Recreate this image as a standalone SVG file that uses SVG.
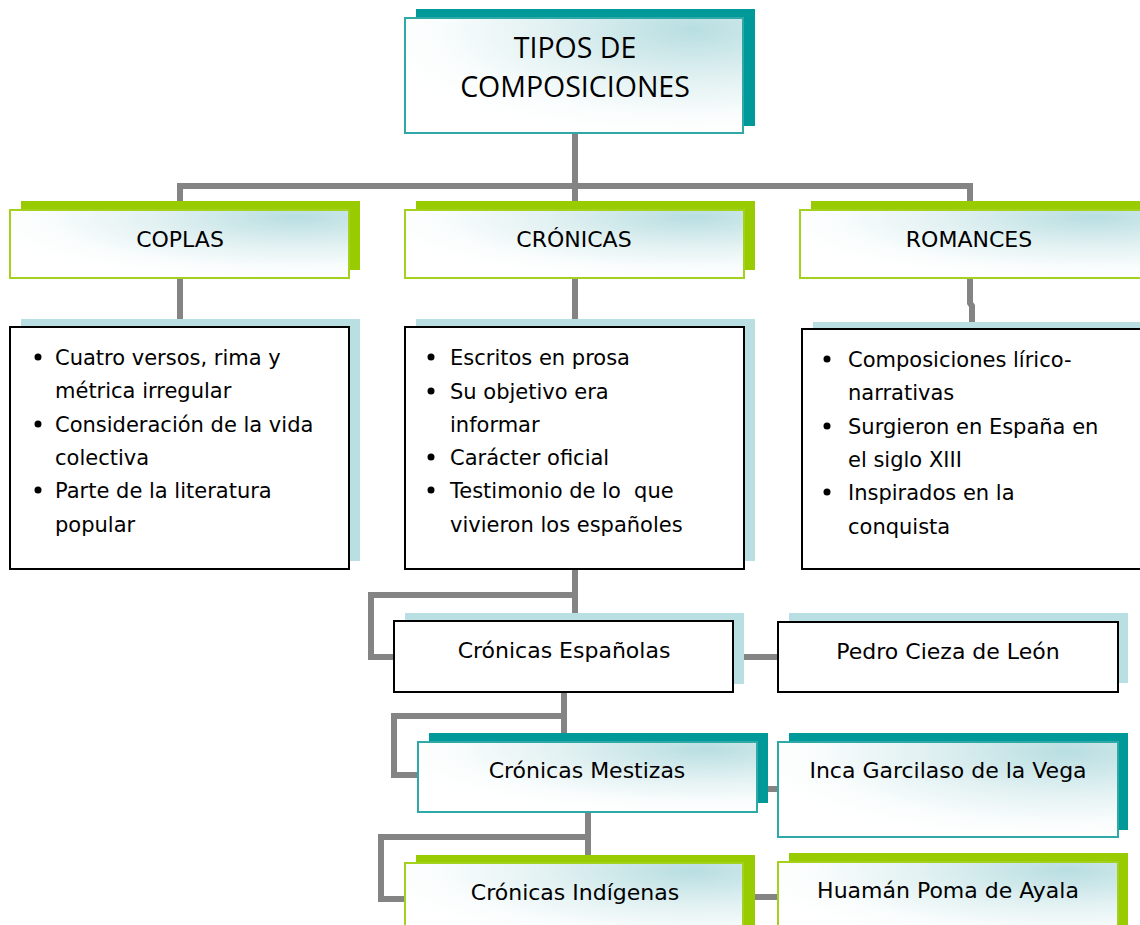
<svg xmlns="http://www.w3.org/2000/svg" width="1140" height="925" viewBox="0 0 1140 925">
<defs>
<radialGradient id="g" cx="0.85" cy="0.1" r="0.95" fx="0.85" fy="0.1">
<stop offset="0" stop-color="#B8DEE1"/>
<stop offset="0.45" stop-color="#E2F1F2"/>
<stop offset="0.8" stop-color="#FAFDFD"/>
<stop offset="1" stop-color="#FFFFFF"/>
</radialGradient>
<style>
.con{fill:none;stroke:#848484;stroke-width:6;stroke-linejoin:miter;stroke-linecap:butt}
.shT{fill:#009999}
.shG{fill:#99CC00}
.shB{fill:#B9DFE2}
.frT{fill:url(#g);stroke:#2FA8A8;stroke-width:2}
.frG{fill:url(#g);stroke:#A3D11E;stroke-width:2}
.frB{fill:#FFFFFF;stroke:#000000;stroke-width:2}
.t{font-family:"DejaVu Sans",sans-serif;font-size:21px;fill:#000}
.h{font-family:"DejaVu Sans",sans-serif;font-size:22px;fill:#000;text-anchor:middle}
.ti{font-family:"Open Sans",sans-serif;font-size:28.5px;fill:#000;text-anchor:middle}
.b{fill:#000}
</style>
</defs>
<rect width="1140" height="925" fill="#FFFFFF"/>
<g id="connectors">
<path class="con" d="M575 133 V205"/>
<path class="con" d="M180 205 V186 H970 V205"/>
<path class="con" d="M180 278 V320"/>
<path class="con" d="M575 278 V320"/>
<path class="con" d="M970 278 V303 L972 306 V323"/>
<path class="con" d="M575 569 V614"/>
<path class="con" d="M575 595 H371 V657 H395"/>
<path class="con" d="M744 657 H779"/>
<path class="con" d="M564 692 V734"/>
<path class="con" d="M564 716 H394 V775 H419"/>
<path class="con" d="M768 789 H779"/>
<path class="con" d="M588 812 V856"/>
<path class="con" d="M588 837 H381 V899 H406"/>
<path class="con" d="M755 897 H779"/>
</g>
<g id="tipos">
<rect class="shT" x="416" y="9" width="339" height="117"/>
<rect class="frT" x="405" y="18" width="338" height="115"/>
<text class="ti" x="575" y="58">TIPOS DE</text>
<text class="ti" x="575" y="97">COMPOSICIONES</text>
</g>
<g id="coplas">
<rect class="shG" x="21" y="201" width="339" height="69"/>
<rect class="frG" x="10" y="210" width="339" height="68"/>
<text class="h" x="180" y="247">COPLAS</text>
</g>
<g id="cronicas">
<rect class="shG" x="416" y="201" width="339" height="69"/>
<rect class="frG" x="405" y="210" width="339" height="68"/>
<text class="h" x="574" y="247">CRÓNICAS</text>
</g>
<g id="romances">
<rect class="shG" x="811" y="201" width="335" height="69"/>
<rect class="frG" x="800" y="210" width="345" height="68"/>
<text class="h" x="969" y="247">ROMANCES</text>
</g>
<g id="coplas-desc">
<rect class="shB" x="21" y="319" width="339" height="242"/>
<rect class="frB" x="10" y="327" width="339" height="242"/>
<circle class="b" cx="38" cy="357" r="3.5"/>
<circle class="b" cx="38" cy="424" r="3.5"/>
<circle class="b" cx="38" cy="490" r="3.5"/>
<text class="t" x="55" y="365">Cuatro versos, rima y</text>
<text class="t" x="55" y="398">métrica irregular</text>
<text class="t" x="55" y="432">Consideración de la vida</text>
<text class="t" x="55" y="465">colectiva</text>
<text class="t" x="55" y="498">Parte de la literatura</text>
<text class="t" x="55" y="532">popular</text>
</g>
<g id="cronicas-desc">
<rect class="shB" x="416" y="319" width="339" height="242"/>
<rect class="frB" x="405" y="327" width="339" height="242"/>
<circle class="b" cx="431" cy="357" r="3.5"/>
<circle class="b" cx="431" cy="391" r="3.5"/>
<circle class="b" cx="431" cy="457" r="3.5"/>
<circle class="b" cx="431" cy="490" r="3.5"/>
<text class="t" x="450" y="365">Escritos en prosa</text>
<text class="t" x="450" y="399">Su objetivo era</text>
<text class="t" x="450" y="432">informar</text>
<text class="t" x="450" y="465">Carácter oficial</text>
<text class="t" x="450" y="498" style="white-space:pre">Testimonio de lo  que</text>
<text class="t" x="450" y="532">vivieron los españoles</text>
</g>
<g id="romances-desc">
<rect class="shB" x="813" y="322" width="335" height="240"/>
<rect class="frB" x="802" y="329" width="345" height="240"/>
<circle class="b" cx="827" cy="359" r="3.5"/>
<circle class="b" cx="827" cy="426" r="3.5"/>
<circle class="b" cx="827" cy="492" r="3.5"/>
<text class="t" x="848" y="367">Composiciones lírico-</text>
<text class="t" x="848" y="400">narrativas</text>
<text class="t" x="848" y="434">Surgieron en España en</text>
<text class="t" x="848" y="467">el siglo XIII</text>
<text class="t" x="848" y="500">Inspirados en la</text>
<text class="t" x="848" y="534">conquista</text>
</g>
<g id="cronicas-espanolas">
<rect class="shB" x="405" y="613" width="339" height="71"/>
<rect class="frB" x="394" y="621" width="339" height="71"/>
<text class="h" x="564" y="658">Crónicas Españolas</text>
</g>
<g id="pedro-cieza">
<rect class="shB" x="789" y="613" width="339" height="70"/>
<rect class="frB" x="778" y="622" width="340" height="70"/>
<text class="h" x="948" y="659">Pedro Cieza de León</text>
</g>
<g id="cronicas-mestizas">
<rect class="shT" x="429" y="733" width="339" height="70"/>
<rect class="frT" x="418" y="742" width="339" height="70"/>
<text class="h" x="587" y="778">Crónicas Mestizas</text>
</g>
<g id="inca-garcilaso">
<rect class="shT" x="789" y="733" width="339" height="97"/>
<rect class="frT" x="778" y="742" width="340" height="95"/>
<text class="h" x="948" y="778">Inca Garcilaso de la Vega</text>
</g>
<g id="cronicas-indigenas">
<rect class="shG" x="416" y="855" width="339" height="80"/>
<rect class="frG" x="405" y="863" width="338" height="80"/>
<text class="h" x="575" y="900">Crónicas Indígenas</text>
</g>
<g id="huaman-poma">
<rect class="shG" x="789" y="853" width="339" height="80"/>
<rect class="frG" x="778" y="862" width="340" height="80"/>
<text class="h" x="948" y="898">Huamán Poma de Ayala</text>
</g>
</svg>
